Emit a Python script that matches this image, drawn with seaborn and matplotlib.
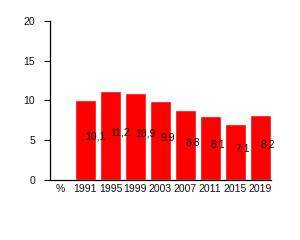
import matplotlib
matplotlib.use("Agg")
import matplotlib.pyplot as plt
import seaborn as sns
import pandas as pd
import numpy as np

categories = ["%", "1991", "1995", "1999", "2003", "2007", "2011", "2015", "2019"]
values = [np.nan, 10.1, 11.2, 10.9, 9.9, 8.8, 8.1, 7.1, 8.2]
labels = ["", "10,1", "11,2", "10,9", "9,9", "8,8", "8,1", "7,1", "8,2"]
yticks = [0, 5, 10, 15, 20]

sns.set_style("ticks")
plt.rcParams["font.family"] = ["Liberation Sans", "DejaVu Sans"]

df = pd.DataFrame({"cat": categories, "val": values})

fig = plt.figure(figsize=(3, 2.4), dpi=100)
ax = fig.add_axes([0.1667, 0.249, 0.7353, 0.665])
sns.barplot(data=df, x="cat", y="val", order=categories, color="#ff0000",
            saturation=1, width=0.84, ax=ax, errorbar=None)

for i, (v, lab) in enumerate(zip(values, labels)):
    if lab:
        ax.text(i, v / 2, lab, ha="left", va="baseline", fontsize=7.5, color="#111111")

ax.set_xlim(-0.42, len(categories) - 1 + 0.42)
ax.set_ylim(0, 20)
ax.set_yticks(yticks)
ax.set_xlabel("")
ax.set_ylabel("")
sns.despine(ax=ax)
ax.tick_params(axis="y", length=4.3, width=0.8, pad=6.5, labelsize=7.5, colors="#111111")
ax.tick_params(axis="x", length=0, pad=2.5, labelsize=7.5, colors="#111111")
for s in ["left", "bottom"]:
    ax.spines[s].set_color("black")
    ax.spines[s].set_linewidth(0.9)

fig.savefig("out.png", dpi=100)
